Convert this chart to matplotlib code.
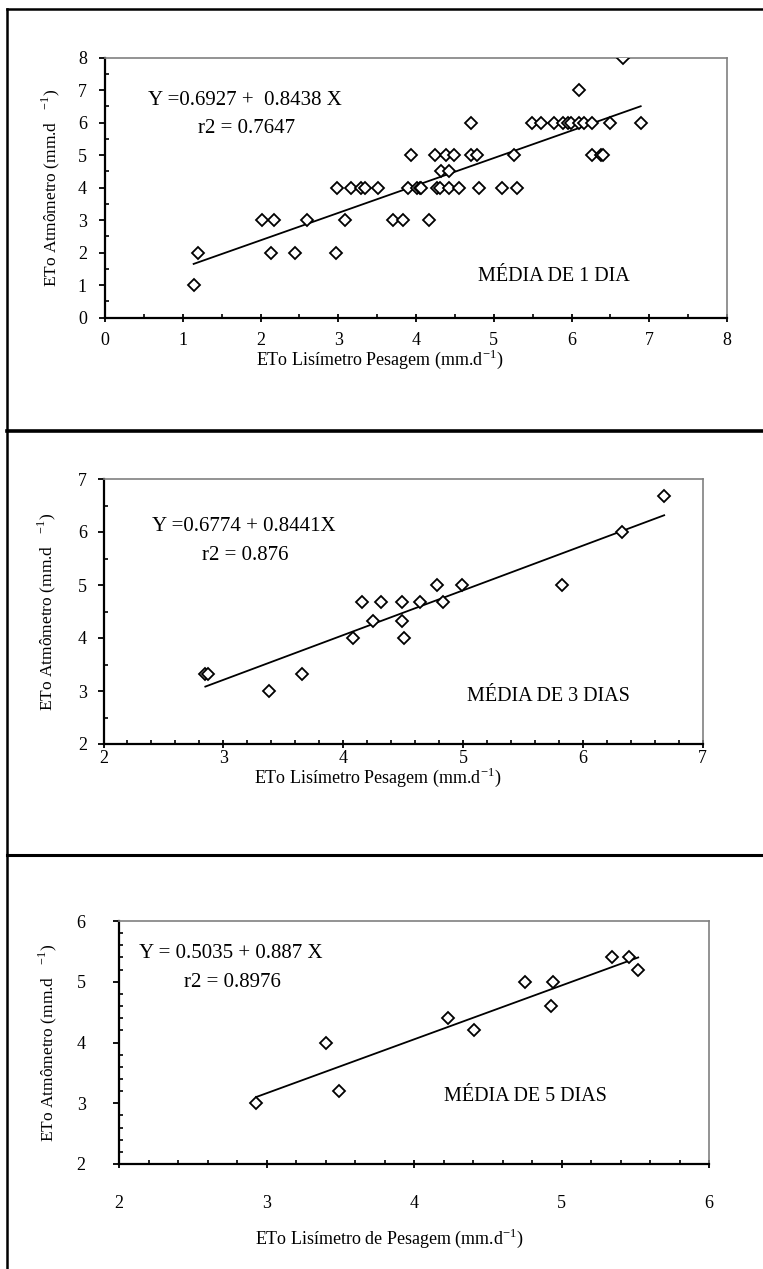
import numpy as np
import matplotlib.pyplot as plt
from matplotlib.lines import Line2D
from matplotlib.ticker import MultipleLocator

plt.rcParams['font.family'] = ['Liberation Serif', 'DejaVu Serif']
plt.rcParams['mathtext.fontset'] = 'custom'
plt.rcParams['mathtext.rm'] = 'Liberation Serif'

# media de 1 dia
x1 = [1.14, 1.19, 2.02, 2.18, 2.13, 2.45, 2.60, 2.97, 2.98, 3.09, 3.16, 3.29, 3.35,
      3.51, 3.70, 3.83, 3.93, 3.90, 4.01, 4.05, 4.06, 4.17, 4.25, 4.38, 4.49, 4.32,
      4.42, 4.27, 4.31, 4.43, 4.55, 4.71, 4.71, 4.78, 4.81, 5.11, 5.30, 5.26, 5.49,
      5.61, 5.77, 5.89, 5.96, 5.99, 6.10, 6.16, 6.26, 6.49, 6.89, 6.10, 6.66, 6.26,
      6.38, 6.41]
y1 = [1, 2, 3, 3, 2, 2, 3, 2, 4, 3, 4, 4, 4,
      4, 3, 3, 5, 4, 4, 4, 4, 3, 5, 5, 5, 4.5,
      4.5, 4, 4, 4, 4, 6, 5, 5, 4, 4, 4, 5, 6,
      6, 6, 6, 6, 6, 6, 6, 6, 6, 6, 7, 8, 5,
      5, 5]
a1, b1, r2_1 = 0.6927, 0.8438, 0.7647

# media de 3 dias
x3 = [2.85, 2.87, 3.38, 3.66, 4.08, 4.16, 4.25, 4.32, 4.49, 4.49, 4.51, 4.64, 4.78,
      4.83, 4.99, 5.83, 6.33, 6.68]
y3 = [3.33, 3.33, 3.0, 3.33, 4.0, 4.67, 4.33, 4.67, 4.67, 4.33, 4.0, 4.67, 5.0,
      4.67, 5.0, 5.0, 6.0, 6.67]
a3, b3, r2_3 = 0.6774, 0.8441, 0.876

# media de 5 dias
x5 = [2.93, 3.40, 3.49, 4.23, 4.41, 4.75, 4.94, 4.93, 5.34, 5.46, 5.52]
y5 = [3.0, 4.0, 3.2, 4.4, 4.2, 5.0, 5.0, 4.6, 5.4, 5.4, 5.2]
a5, b5, r2_5 = 0.5035, 0.887, 0.8976

W, H = 763, 1269
fig = plt.figure(figsize=(W / 100, H / 100), dpi=100)


def caixa(esq, dir_, topo, base):
    # posicao do grafico em pixels -> fracao da figura
    return [esq / W, 1 - base / H, (dir_ - esq) / W, (base - topo) / H]


def painel(pos, x, y, a, b, lim, menor_x, menor_y, eq, r2txt, media,
           pos_eq, pos_r2, pos_media, xlabel, pos_xl, pos_yl, pad):
    ax = fig.add_axes(pos)
    ax.plot(x, y, linestyle='none', marker='D', markersize=5.8,
            markerfacecolor='white', markeredgecolor='black', markeredgewidth=1.3,
            zorder=3)
    xx = np.array([min(x), max(x)])
    ax.plot(xx, a + b * xx, color='black', lw=1.3, zorder=2)
    ax.set_xlim(lim)
    ax.set_ylim(lim)
    ax.xaxis.set_major_locator(MultipleLocator(1))
    ax.yaxis.set_major_locator(MultipleLocator(1))
    ax.xaxis.set_minor_locator(MultipleLocator(menor_x))
    ax.yaxis.set_minor_locator(MultipleLocator(menor_y))
    ax.tick_params(axis='x', which='major', direction='inout', length=6, width=1.3,
                   labelsize=13, pad=pad[0])
    ax.tick_params(axis='x', which='minor', direction='in', length=3, width=1.2)
    ax.tick_params(axis='y', which='major', direction='out', length=4, width=1.3,
                   labelsize=13, pad=pad[1])
    ax.tick_params(axis='y', which='minor', direction='in', length=3, width=1.2)
    for s in ['left', 'bottom']:
        ax.spines[s].set_linewidth(1.6)
        ax.spines[s].set_color('black')
    for s in ['top', 'right']:
        ax.spines[s].set_linewidth(1.2)
        ax.spines[s].set_color('#808080')
    ax.text(pos_eq[0], pos_eq[1], eq, transform=ax.transAxes, fontsize=15, va='center')
    ax.text(pos_r2[0], pos_r2[1], r2txt, transform=ax.transAxes, fontsize=15, va='center')
    ax.text(pos_media[0], pos_media[1], media, transform=ax.transAxes, fontsize=14.5,
            va='center')
    ax.set_xlabel(xlabel, fontsize=13)
    ax.set_ylabel('ETo Atmômetro (mm.d   $^{-1}$)', fontsize=12.5)
    ax.xaxis.set_label_coords(*pos_xl)
    ax.yaxis.set_label_coords(*pos_yl)
    return ax


painel(caixa(105, 727, 57.7, 317.7), x1, y1, a1, b1, (0, 8), 0.5, 0.5,
       'Y =0.6927 +  0.8438 X', 'r2 = %.4f' % r2_1, 'MÉDIA DE 1 DIA',
       (0.069, 0.837), (0.1495, 0.726), (0.60, 0.157),
       'ETo Lisímetro Pesagem (mm.d$^{\\mathregular{-1}}$)', (0.442, -0.117), (-0.069, 0.5),
       (7, 9))

painel(caixa(103.5, 702.5, 479, 744), x3, y3, a3, b3, (2, 7), 0.2, 0.5,
       'Y =0.6774 + 0.8441X', 'r2 = %.3f' % r2_3, 'MÉDIA DE 3 DIAS',
       (0.0805, 0.82), (0.164, 0.713), (0.607, 0.178),
       'ETo Lisímetro Pesagem (mm.d$^{\\mathregular{-1}}$)', (0.457, -0.084), (-0.076, 0.5),
       (1.5, 8))

painel(caixa(119, 709, 921, 1164), x5, y5, a5, b5, (2, 6), 0.2, 0.2,
       'Y = 0.5035 + 0.887 X', 'r2 = %.4f' % r2_5, 'MÉDIA DE 5 DIAS',
       (0.034, 0.867), (0.110, 0.748), (0.551, 0.277),
       'ETo Lisímetro de Pesagem (mm.d$^{\\mathregular{-1}}$)', (0.459, -0.259), (-0.102, 0.5),
       (19, 20))

# molduras dos paineis
def linha(xs, ys, lw):
    fig.add_artist(Line2D([v / W for v in xs], [1 - v / H for v in ys],
                          color='black', lw=lw, transform=fig.transFigure))

linha([7, 763], [9, 9], 1.8)
linha([7, 7], [9, 1269], 1.8)
linha([7, 763], [431, 431], 2.6)
linha([7, 763], [855, 855], 2.2)

fig.savefig('out.png', dpi=100)
